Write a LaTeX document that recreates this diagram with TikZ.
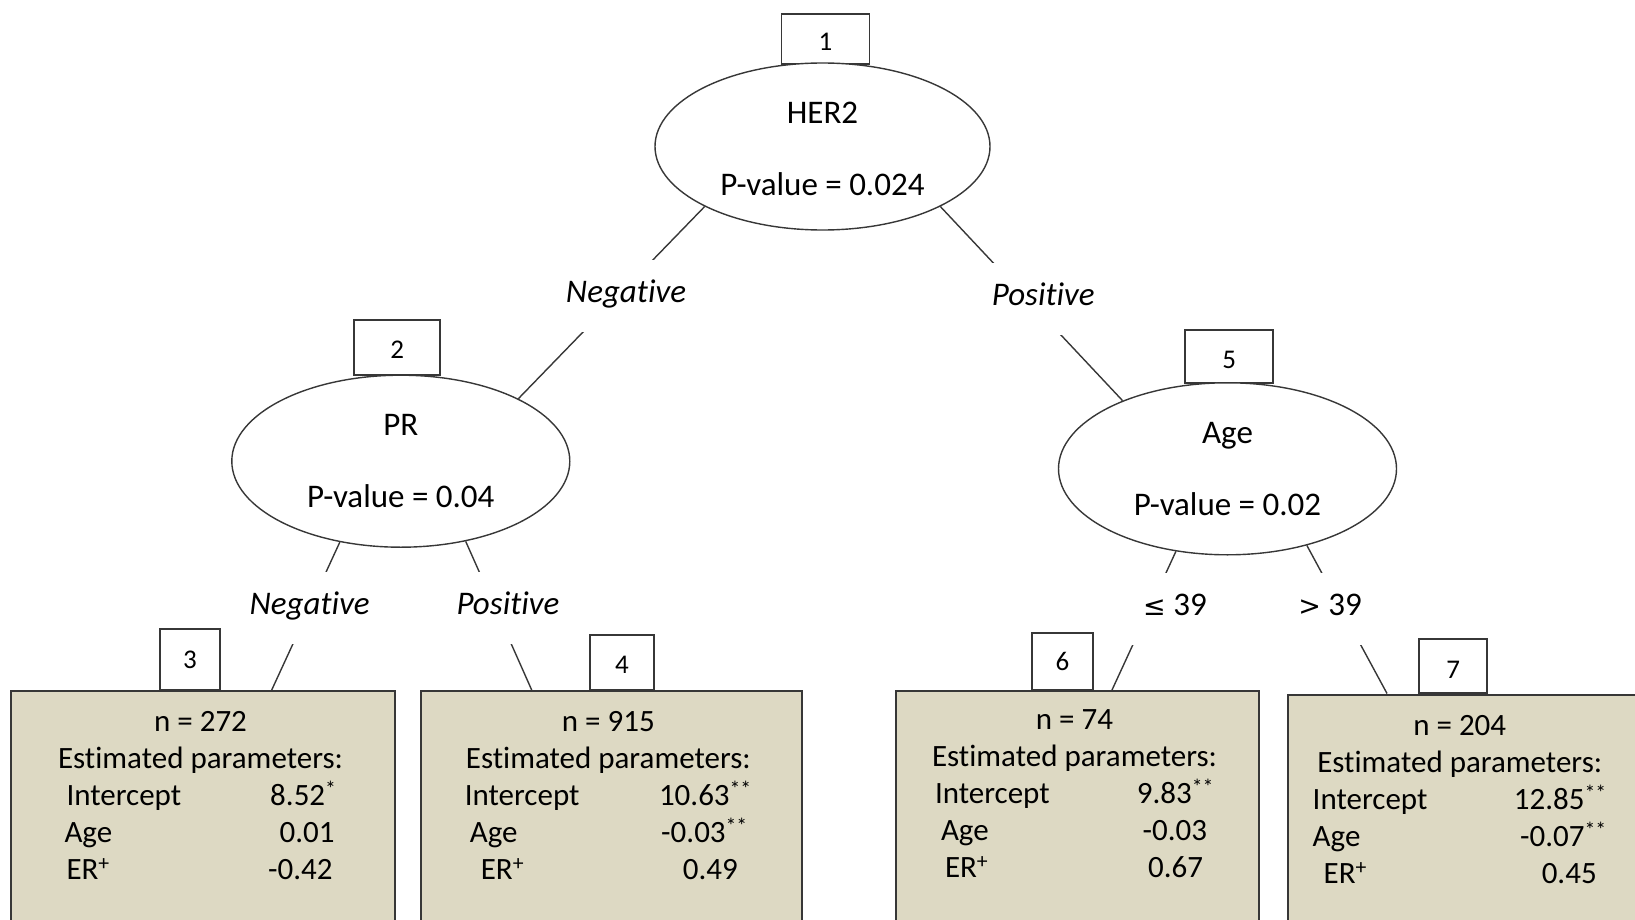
\documentclass[tikz,border=0pt]{standalone}
\usepackage{fontspec}
\setmainfont{Carlito}[Ligatures=NoCommon]
\newfontfamily\symfont{DejaVu Sans}
\usetikzlibrary{shapes.geometric}
\definecolor{leafcol}{RGB}{221,217,195}
\definecolor{linecol}{RGB}{55,55,55}
% one parameter row of a leaf: width, left indent, name, value, right indent
\newcommand{\prow}[5]{\makebox[#1pt]{\hspace*{#2pt}#3\hfill #4\hspace*{#5pt}}}
\newcommand{\cmpsym}[1]{{\symfont\fontsize{27}{40}\selectfont #1}}

\begin{document}
\begin{tikzpicture}[x=1pt,y=-1pt,
    split/.style={ellipse,draw=linecol,line width=1.4pt,fill=white,inner sep=0pt,align=center,font=\fontsize{33}{72.5}\selectfont},
    idbox/.style={draw=linecol,line width=1.8pt,fill=white,inner sep=0pt,font=\fontsize{27}{32}\selectfont},
    leafbox/.style={draw=linecol,line width=2pt,fill=leafcol,anchor=north west,minimum height=300pt,inner sep=0pt},
    leaftxt/.style={align=center,inner sep=0pt,font=\fontsize{31}{37}\selectfont},
    edgelab/.style={fill=white,anchor=base,inner xsep=12pt,inner ysep=21pt,text height=21pt,text depth=9pt,font=\fontsize{33}{40}\selectfont},
    edge/.style={draw=linecol,line width=1.4pt}]
    \useasboundingbox (0,0) rectangle (1635,920);
    \clip (0,0) rectangle (1635,920);

    % node numbers
    \node[idbox,minimum width=88pt,minimum height=50pt] (nb1) at (825.5,39) {\rule{0pt}{24pt}1};
    \node[idbox,minimum width=86pt,minimum height=55pt] (nb2) at (397.2,347.5) {\rule{0pt}{22pt}2};
    \node[idbox,minimum width=88pt,minimum height=53pt] (nb5) at (1229.2,356.3) {\rule{0pt}{24pt}5};
    \node[idbox,minimum width=60pt,minimum height=61pt] (nb3) at (190,659.7) {3};
    \node[idbox,minimum width=64pt,minimum height=55pt] (nb4) at (622,662.5) {\rule{0pt}{22pt}4};
    \node[idbox,minimum width=61pt,minimum height=57pt] (nb6) at (1062.5,661.5) {6};
    \node[idbox,minimum width=68pt,minimum height=54pt] (nb7) at (1453.2,666.3) {\rule{0pt}{24pt}7};

    % inner nodes
    \node[split,minimum width=335pt,minimum height=167pt] (e1) at (822.5,146.5) {\rule{0pt}{26pt}HER2\\P-value = 0.024};
    \node[split,minimum width=338pt,minimum height=172pt] (e2) at (400.8,461.2) {PR\\P-value = 0.04};
    \node[split,minimum width=338pt,minimum height=172pt] (e5) at (1227.5,468.8) {Age\\P-value = 0.02};

    % terminal nodes
    \node[leafbox,minimum width=384pt] (leaf3) at (10,690) {};
    \node[leafbox,minimum width=381pt] (leaf4) at (420,690) {};
    \node[leafbox,minimum width=363pt] (leaf6) at (895,690) {};
    \node[leafbox,minimum width=400pt] (leaf7) at (1287,693.5) {};

    \coordinate (t3) at (271.7,690);
    \coordinate (t4) at (531.7,690);
    \coordinate (t6) at (1112,690);
    \coordinate (t7) at (1387,693.5);

    \path[edge] (e1.207) -- (e2.28)
                (e1.333) -- (e5.147)
                (e2.233) -- (t3)
                (e2.309) -- (t4)
                (e5.238) -- (t6)
                (e5.316) -- (t7);

    % split labels
    \node[edgelab] (neg1) at (626,302) {\itshape Negative};
    \node[edgelab] (pos1) at (1043.3,305) {\itshape Positive};
    \node[edgelab] (neg2) at (309.7,614) {\itshape Negative};
    \node[edgelab] (pos2) at (508,614) {\itshape Positive};
    \node[edgelab] (le6) at (1175,615) {\cmpsym{≤} 39};
    \node[edgelab] (gt7) at (1330,615) {\cmpsym{>} 39};

    % leaf contents
    \node[leaftxt] (txt3) at (200.5,796) {n = 272\\Estimated parameters:\\
        \prow{272}{2}{Intercept}{8.52\textsuperscript{*}}{0}\\
        \prow{272}{0}{Age}{0.01}{2}\\
        \prow{272}{2}{ER\textsuperscript{+}}{-0.42}{4}};
    \node[leaftxt] (txt4) at (608.3,796) {n = 915\\Estimated parameters:\\
        \prow{287}{0}{Intercept}{10.63\textsuperscript{**}}{0}\\
        \prow{287}{5}{Age}{-0.03\textsuperscript{**}}{4}\\
        \prow{287}{16}{ER\textsuperscript{+}}{0.49}{14}};
    \node[leaftxt] (txt6) at (1074.5,794) {n = 74\\Estimated parameters:\\
        \prow{279}{0}{Intercept}{9.83\textsuperscript{**}}{0}\\
        \prow{279}{6}{Age}{-0.03}{7}\\
        \prow{279}{10}{ER\textsuperscript{+}}{0.67}{11}};
    \node[leaftxt] (txt7) at (1459.7,800) {n = 204\\Estimated parameters:\\
        \prow{294}{0}{Intercept}{12.85\textsuperscript{**}}{0}\\
        \prow{294}{0}{Age}{-0.07\textsuperscript{**}}{0}\\
        \prow{294}{11}{ER\textsuperscript{+}}{0.45}{10}};
\end{tikzpicture}
\end{document}
